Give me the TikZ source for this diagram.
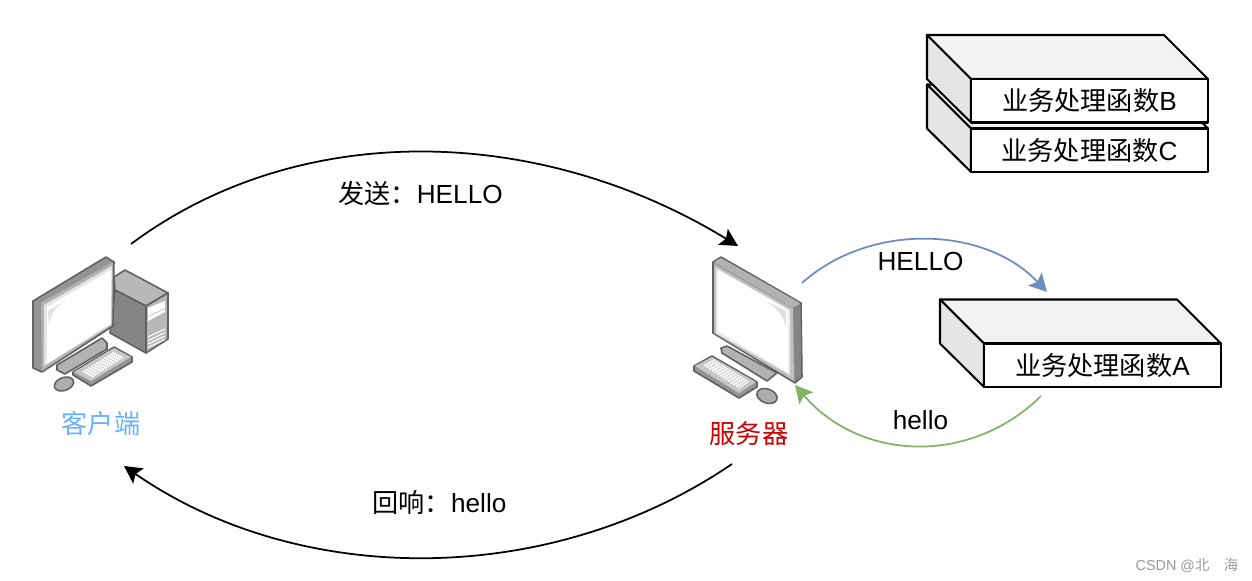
\documentclass[tikz,border=0pt]{standalone}
\usepackage{fontspec}
\setmainfont{Liberation Sans}
\newfontfamily\cjk{Noto Sans CJK SC}
\usetikzlibrary{arrows.meta}
\definecolor{upperBlue}{HTML}{6C8EBF}
\definecolor{lowerGreen}{HTML}{82B366}
\definecolor{clientBlue}{HTML}{66B2FF}
\definecolor{serverRed}{HTML}{CC0000}

\begin{document}
\begin{tikzpicture}
[x=0.02cm,y=-0.02cm,
  textDecorate/.style={inner sep=0pt,font=\fontsize{14.9}{18}\selectfont},%
  frontDecorate/.style={draw=black,line width=1.15pt,fill=white,line join=round},%
  topDecorate/.style={draw=black,line width=1.15pt,fill=black!5,line join=round},%
  sideDecorate/.style={draw=black,line width=1.15pt,fill=black!10,line join=round},%
  pcEdge/.style={draw=black!62,line width=0.9pt,line join=round},%
  lineDecorate/.style={-{Stealth[length=10pt,width=10.5pt,inset=2pt]},line width=1pt}]
\useasboundingbox (0,0) rectangle (1252,581);
%% boxes, the lower one first
\foreach \boxname/\x/\y/\boxtext in {
  boxA/984/343.5/A, boxC/971/128.5/C, boxB/971/79/B}
{
  \draw[topDecorate] (\x-44,\y-44) -- (\x+193,\y-44) -- (\x+237,\y) -- (\x,\y) -- cycle;
  \draw[sideDecorate] (\x-44,\y-44) -- (\x,\y) -- (\x,\y+43.5) -- (\x-44,\y) -- cycle;
  \node (\boxname) at (\x+118.5,\y+21.75) [frontDecorate,minimum width=237*0.5691pt,
    minimum height=43.5*0.5691pt,inner sep=0pt,font=\fontsize{14.9}{18}\selectfont]
    {{\cjk 业务处理函数}\boxtext};
}
%% client computer
\filldraw[pcEdge,fill=black!28] (114,277) -- (125,270) -- (168,293) -- (146,306) -- (115,290) -- cycle;
\filldraw[pcEdge,fill=black!48] (115,290) -- (146,306) -- (146,353) -- (110,333) -- cycle;
\filldraw[pcEdge,fill=black!28] (146,306) -- (168,293) -- (168,339) -- (146,353) -- cycle;
\fill[white] (148,308) -- (165,301) -- (165,308) -- (148,316) -- cycle
  (148,317) -- (165,309) -- (165,312) -- (148,321) -- cycle;
\foreach \y in {0,3.5,7,10.5}
{
  \draw[white,line width=0.6pt] (148,337+\y) -- (165,329+\y);
}
\filldraw[pcEdge,fill=black!30] (57,365) -- (102,338) -- (107,343) -- (107,349) -- (65,374) -- (57,370) -- cycle;
\filldraw[pcEdge,fill=black!42] (33,301) -- (106,257) -- (114,262) -- (113,326) -- (42,372) -- (33,368) -- cycle;
\fill[black!30] (41,303) -- (113,262) -- (112,325) -- (42,371) -- cycle;
\fill[black!10] (44,305) -- (112,266) -- (111,325) -- (44,366) -- cycle;
\fill[white] (47,307) -- (111,270) -- (111,323) -- (47,364) -- cycle;
\fill[black!12] (48,311) -- (65,301) .. controls (55,307) and (50,315) .. (49,325) -- cycle;
\filldraw[pcEdge,fill=black!42] (73,372) -- (114,347) -- (132,357) -- (132,362) -- (91,386) -- (73,375) -- cycle;
\fill[black!22] (74,372) -- (114,348) -- (131,357) -- (91,381) -- cycle;
\foreach \s in {0,0.2,0.4,0.6,0.8,1}
{
  \draw[white,line width=0.9pt,dash pattern=on 1.2pt off 0.6pt]
    (83+\s*9,372+\s*5) -- (115+\s*8,352+\s*5);
}
\filldraw[pcEdge,fill=black!32,rotate around={20:(64,384)}] (64,384) ellipse (10 and 6.5);
%% server computer
\filldraw[pcEdge,fill=black!30] (721,348) -- (727,346) -- (777,373) -- (767,381) -- (722,353) -- cycle;
\filldraw[pcEdge,fill=black!40] (713,262) -- (721,257) -- (801,303) -- (802,377) -- (795,383) -- (713,333) -- cycle;
\fill[black!30] (714,262) -- (721,258) -- (800,303) -- (793,308) -- cycle;
\fill[black!48] (793,308) -- (800,304) -- (801,377) -- (795,382) -- cycle;
\fill[black!25] (714,264) -- (793,309) -- (794,381) -- (714,333) -- cycle;
\fill[black!8] (716,268) -- (790,310) -- (790,375) -- (716,333) -- cycle;
\fill[white] (718,270) -- (788,310) -- (788,373) -- (718,331) -- cycle;
\fill[black!12] (764,300) .. controls (775,306) and (785,316) .. (786,330) -- (786,311) -- cycle;
\filldraw[pcEdge,fill=black!42] (694,366) -- (712,356) -- (757,382) -- (757,387) -- (739,398) -- (694,371) -- cycle;
\fill[black!22] (695,366) -- (712,357) -- (756,382) -- (739,393) -- cycle;
\foreach \s in {0,0.2,0.4,0.6,0.8,1}
{
  \draw[white,line width=0.9pt,dash pattern=on 1.2pt off 0.6pt]
    (713-\s*9,360+\s*5) -- (749-\s*9,382+\s*6);
}
\filldraw[pcEdge,fill=black!32,rotate around={-20:(767,396)}] (767,396) ellipse (10.5 and 7);
%% labels
\foreach \labelname/\x/\y/\labeltext/\labelcolor in {
  clientLabel/101/424/{\cjk 客户端}/clientBlue,
  serverLabel/749/434/{\cjk 服务器}/serverRed,
  sendLabel/420.5/194/{{\cjk 发送：}HELLO}/black,
  replyLabel/439.5/502.5/{{\cjk 回响：}hello}/black,
  upperLabel/920.5/261/HELLO/black,
  lowerLabel/920.5/420/hello/black}
{
  \node (\labelname) at (\x,\y) [textDecorate,text=\labelcolor] {\labeltext};
}
\node (markLabel) at (1187,565) [inner sep=0pt,text=black!40,font=\fontsize{8.2}{9}\selectfont]
  {CSDN @{\cjk 北\hspace{1em}海}};
%% free ends of the curves
\foreach \pointname/\x/\y in {
  sendStart/131/244, sendEnd/738/246, replyStart/732/464, replyEnd/124/466,
  upperStart/802/283, upperEnd/1047/292, lowerStart/1041/396, lowerEnd/795/385}
{
  \coordinate (\pointname) at (\x,\y);
}
%% curves
\draw[lineDecorate,black] (sendStart) .. controls (300,118) and (540,125) .. (sendEnd);
\draw[lineDecorate,black] (replyStart) .. controls (550,588) and (300,588) .. (replyEnd);
\draw[lineDecorate,upperBlue] (upperStart) .. controls (870,222) and (985,226) .. (upperEnd);
\draw[lineDecorate,lowerGreen] (lowerStart) .. controls (970,466) and (860,461) .. (lowerEnd);
\end{tikzpicture}
\end{document}
